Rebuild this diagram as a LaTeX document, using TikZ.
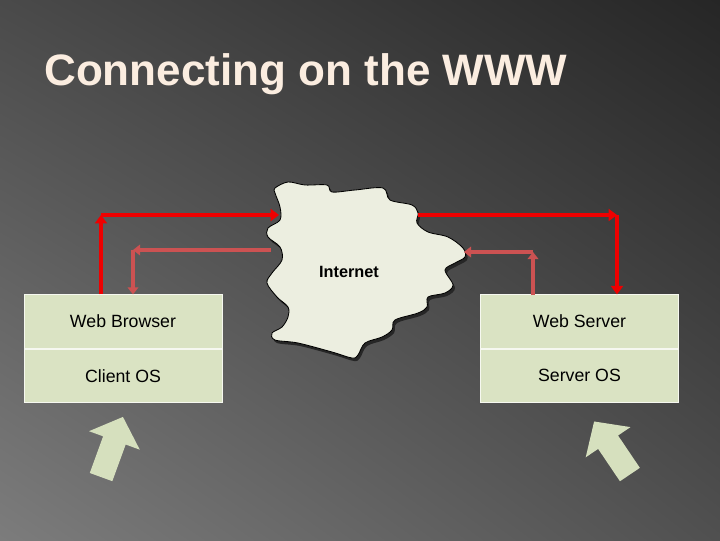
\documentclass[tikz,border=0pt]{standalone}
\usepackage{fontspec}
\setmainfont{Liberation Sans}
\usetikzlibrary{arrows.meta,positioning,calc,shadings}
\definecolor{layergreen}{HTML}{DAE3C3}
\definecolor{cloudfill}{HTML}{ECEEE0}
\definecolor{titlecol}{HTML}{FBEDE0}
\definecolor{linkred}{HTML}{EE0000}
\definecolor{replyred}{HTML}{CC5252}
\definecolor{blockgreen}{HTML}{D6E0BE}
\definecolor{bgtl}{HTML}{4A4A4A}
\definecolor{bgtr}{HTML}{262626}
\definecolor{bgbl}{HTML}{7C7C7C}
\definecolor{bgbr}{HTML}{505050}

\begin{document}
\begin{tikzpicture}[
  x=0.025cm, y=-0.025cm,
  layer/.style={draw=white!75!layergreen, fill=layergreen, minimum width=4.95cm, minimum height=1.34cm, inner sep=0pt, font=\fontsize{12.6}{15}\selectfont},
  request/.style={draw=linkred, line width=3.3pt, -{Triangle[length=6pt,width=8.5pt]}},
  reply/.style={draw=replyred, line width=2.6pt, -{Triangle[length=5pt,width=7.5pt]}}
]
% slide background
\shade[upper left=bgtl, upper right=bgtr, lower left=bgbl, lower right=bgbr] (0,0) rectangle (720,540);
\useasboundingbox (0,0) rectangle (720,540);

\node[anchor=base west, inner sep=0pt, text=titlecol, font=\fontsize{31.3}{38}\selectfont\bfseries] (title) at (44,85) {Connecting on the WWW};

% the two stacks
\node[layer] (browser) at (123,321.5) {Web Browser};
\node[layer, below=0pt of browser] (clientos) {Client OS};
\node[layer] (server) at (579.5,321.5) {Web Server};
\node[layer, below=0pt of server] (serveros) {Server OS};

% internet cloud
\path[save path=\cloudpath] plot[smooth cycle, tension=0.55] coordinates {
  (275,188) (288,182) (305,185) (327,185) (332,192) (355,190) (383,188)
  (390,200) (412,205) (418,213) (417,223) (428,232) (448,237) (463,248)
  (465,257) (455,263) (445,270) (453,285) (445,293) (428,297) (427,307)
  (418,313) (395,320) (392,330) (382,337) (365,343) (358,355) (352,358)
  (332,352) (298,343) (275,340) (272,333) (282,327) (288,317) (288,307)
  (277,297) (267,283) (272,273) (282,260) (280,247) (268,237) (268,228)
  (280,220) (280,207) (275,193)};
\begin{scope}[transform canvas={shift={(2,3)}}]
  \fill[black!85, use path=\cloudpath];
\end{scope}
\draw[black, line width=0.6pt, fill=cloudfill, use path=\cloudpath];
\node[font=\fontsize{11.6}{14}\selectfont\bfseries] (internet) at (349,272) {Internet};

% connectors
\coordinate (reqL) at (101,215);
\coordinate (reqLstart) at (reqL |- browser.north);
\coordinate (reqLin) at (279,215);
\coordinate (reqRout) at (418,215);
\coordinate (reqR) at (617,215);
\coordinate (reqRend) at (reqR |- server.north);
\coordinate (repLout) at (271,250);
\coordinate (repL) at (133,250);
\coordinate (repLend) at (repL |- browser.north);
\coordinate (repRstart) at (533,295);
\coordinate (repR) at (533,252);
\coordinate (repRin) at (464,252);

\foreach \a/\b in {reqLstart/reqL, reqL/reqLin, reqRout/reqR, reqR/reqRend}
  \draw[request] (\a) -- (\b);
\foreach \a/\b in {repLout/repL, repL/repLend, repRstart/repR, repR/repRin}
  \draw[reply] (\a) -- (\b);

% block arrows below the stacks
\foreach \px/\py/\ang in {112/447/70, 612/448/124}
  \fill[blockgreen, shift={(\px,\py)}, rotate=\ang]
    (-32,-12) -- (7,-12) -- (7,-27) -- (32,0) -- (7,27) -- (7,12) -- (-32,12) -- cycle;
\end{tikzpicture}
\end{document}
